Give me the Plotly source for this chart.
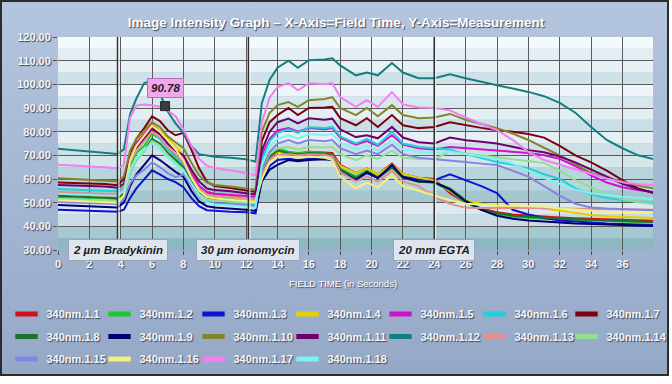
import base64
import plotly.graph_objects as go

# ---------------- data ----------------
time_s = [0, 1, 2, 3, 3.8, 4.2, 4.6, 5, 5.5, 6, 6.5, 7, 7.5, 8, 8.5, 9, 9.5, 10, 11, 12, 12.6,
          13, 13.5, 14, 14.7, 15.3, 16, 17, 17.5, 18, 19, 19.7, 20.4, 21.3, 22, 23, 24,
          25, 26, 27, 28, 29, 30, 31, 32, 33, 34, 35, 36, 37, 38]

series_names = ["340nm.1.%d" % i for i in range(1, 19)]

s1_1 = [53.5, 53.3, 53.1, 52.9, 52.5,
        55, 68, 74, 78, 82, 79, 75, 72, 69, 62.5, 57, 54, 53, 52.5, 52, 51.5,
        63, 69, 71.5, 71, 70.5, 71.5, 71.3, 71, 66, 62.5, 64.5, 62, 66.5, 62, 60.5, 60,
        54, 50, 47.5, 46, 45, 44.5, 44, 43.7, 43.4, 43.2, 43, 42.8, 42.6, 42.4]
s1_2 = [52.4, 52.3, 52.1, 52, 51.6,
        54, 65, 71, 74, 79, 77, 73, 70, 66.5, 60.5, 55.5, 52.5, 51.8, 51.3, 50.8, 50.3,
        64, 70.5, 73, 71.5, 71, 71.5, 71, 70, 64.5, 61, 63.5, 61, 65.5, 61, 59, 58.5,
        55, 50, 47, 45, 44, 43.5, 43.2, 43, 42.8, 42.5, 42.3, 42, 41.8, 41.6]
s1_3 = [47, 46.8, 46.7, 46.5, 46.2,
        47, 52, 56, 60, 63.7, 62, 60, 58.7, 56.5, 52, 48.5, 46.8, 46.5, 46.2, 46, 45.5,
        60, 65.5, 68, 68.5, 68, 68.5, 68.5, 68, 63.5, 60, 62.5, 60.5, 65, 61, 60, 59.5,
        62, 59.4, 57, 54, 47, 45, 43.5, 42.5, 42, 41.5, 41.2, 41, 40.8, 40.6]
s1_4 = [53, 52.8, 52.6, 52.4, 52,
        55, 70, 76, 80, 84, 81.5, 77, 74, 70, 62, 56.5, 53.5, 52.8, 52.3, 51.8, 51.3,
        64, 69.5, 71.5, 71, 70.5, 71, 70.5, 70, 65.5, 62.5, 64.5, 62, 66, 62, 60.5, 59.5,
        55, 51, 49.5, 48.8, 48.5, 48.2, 47.5, 46.5, 45.5, 44.8, 44.3, 44, 43.7, 43.5]
s1_5 = [54.2, 54, 53.8, 53.6, 53.2,
        55, 68, 75, 79, 83, 80, 76, 72, 69, 62, 57, 54.5, 53.8, 53.4, 53, 52.5,
        70, 77, 80.5, 81.5, 80, 81.5, 81, 81.5, 77.5, 74.5, 76, 74, 78.5, 74.5, 73, 72.5,
        73.5, 73, 72.5, 72, 71.5, 71, 70, 68.5, 65.5, 61.5, 58.5, 56.5, 55.3, 54.5]
s1_6 = [55.8, 55.6, 55.4, 55.2, 54.8,
        57, 68, 73, 77, 80, 77, 72.5, 69, 66, 60, 55, 52, 51, 50.3, 49.5, 49,
        68, 76, 79.4, 81, 79.5, 81.9, 81.5, 82, 78, 75, 77, 74.5, 80, 75, 73.5, 73,
        72.5, 70.5, 68.8, 67.2, 66, 64.6, 62, 60, 56, 53.5, 52, 51, 50.3, 49.8]
s1_7 = [58.5, 58.3, 58.1, 57.9, 57.4,
        60, 71, 77, 81.5, 86.5, 84.5, 80.6, 78.5, 79.5, 72.5, 64.5, 58.8, 57, 56.2, 55, 54.5,
        76, 84, 87, 90, 87, 90, 90.2, 90.5, 85.7, 82.7, 85.7, 82, 87, 82.7, 81.5, 82,
        84, 82.7, 81.6, 80.6, 80, 79, 77.5, 74, 70, 67, 63.5, 59.5, 56, 54]
s1_8 = [52.9, 52.7, 52.5, 52.3, 51.9,
        54, 63, 68, 72, 77, 75, 71, 68, 65, 59, 54.5, 52, 51.3, 50.8, 50.3, 49.8,
        63, 69.5, 72, 71, 70.5, 71, 70.8, 70, 64, 60.5, 63, 60.5, 65, 60.5, 58.8, 58.5,
        56, 51, 47.5, 45.5, 44.5, 44, 43.5, 43.2, 43, 42.8, 42.5, 42.3, 42, 41.8]
s1_9 = [49, 48.8, 48.6, 48.4, 48,
        50, 57, 62, 66, 70, 68, 65.5, 63, 61, 55, 50.5, 48.5, 48, 47.6, 47, 46.5,
        59, 64, 66, 68, 67.5, 68, 68.3, 68, 63, 59.5, 63, 60.4, 65.9, 60.8, 59, 58.7,
        55.5, 50.5, 47, 44.5, 43.2, 42.5, 42, 41.6, 41.2, 41, 40.7, 40.4, 40.2, 40.1]
s1_10 = [60.3, 60, 59.8, 59.5, 59,
         61, 72, 77, 80.5, 84, 82, 78, 75.5, 73, 67, 61.5, 58.5, 57.5, 56.8, 56, 55.5,
         80, 88, 91.2, 92.5, 90.5, 93.3, 93.8, 94.6, 90, 87, 90, 86.5, 91.2, 87, 85.7, 86,
         87.5, 85, 83.2, 81.5, 79.2, 76.5, 73.2, 70, 66.3, 62.5, 60.5, 58.8, 57.2, 56]
s1_11 = [57.5, 57.3, 57, 56.8, 56.3,
         58, 68, 73, 77, 81, 79, 75, 72, 70, 64, 59, 56, 55.3, 54.8, 54, 53.5,
         72, 80, 84, 85.5, 83.5, 85.7, 85, 85.5, 81, 77.7, 78.5, 77.2, 82, 77.5, 75.5, 75,
         77.5, 76.4, 75.7, 75, 73.6, 72.2, 71.3, 69.5, 67, 64, 60.8, 58, 55.8, 54.2]
s1_12 = [72.8, 72.3, 71.8, 71.2, 70.6,
         72.5, 87.5, 94, 100.5, 101.5, 96, 88.5, 83.5, 79.5, 74, 70.5, 69.8, 69.4, 69, 68.3, 67.3,
         92, 102, 107, 110, 107, 110.2, 110.5, 111, 108, 103.8, 105, 103.8, 109, 105, 102.6, 102.6,
         104.2, 102.6, 101, 99.6, 98.2, 96.8, 95, 92.2, 88, 82, 76.5, 73, 70, 68.4]
s1_13 = [54.5, 54.3, 54.1, 53.9, 53.5,
         56, 67, 72, 76, 80, 77.5, 73.5, 70.5, 67, 61, 56, 53.5, 52.8, 52.4, 52, 51.5,
         62, 68, 70, 70.5, 70, 70.5, 70.2, 69.5, 63, 59, 61, 59, 63.5, 59, 57, 52.5,
         49.5, 47.8, 47.7, 47.8, 47.8, 47.7, 47.6, 47.5, 47.4, 47.3, 47.2, 47.1, 47, 47]
s1_14 = [51.5, 51.3, 51.2, 51, 50.6,
         53, 63, 68, 71.5, 76, 74, 70, 67, 64, 58, 53.5, 51.5, 50.8, 50.5, 50.2, 49.8,
         64, 70.5, 73, 73.5, 72.5, 73.5, 73.3, 73.5, 70.5, 68, 70, 68.5, 72, 69, 68.5, 68.5,
         71.5, 70.8, 70, 69.2, 68.3, 67.5, 66.8, 63.5, 59.5, 56.5, 53.5, 51.5, 50.2, 49.4]
s1_15 = [50.3, 50.1, 50, 49.8, 49.4,
         51.5, 58, 61.5, 64, 67, 65, 62.5, 60.8, 62, 57, 52.5, 50.3, 49.8, 49.5, 49, 48.5,
         64, 71.5, 75, 76.5, 75, 76.5, 76, 76.5, 73, 70.5, 72, 70.5, 74.5, 70.5, 69, 68.5,
         68, 67.2, 66.5, 65.9, 63.5, 61, 57, 53, 49.5, 48, 47.5, 47.2, 47, 46.8]
s1_16 = [51, 50.8, 50.6, 50.4, 50,
         53, 68, 74, 78.5, 82.5, 80, 76, 72.5, 68, 60.5, 55, 52.5, 51.8, 51.3, 50.8, 50.3,
         60, 67, 69.5, 69.5, 69, 69.5, 69, 68, 61, 56, 58.5, 56.5, 61.6, 57, 55, 53,
         51, 49.5, 49, 48.8, 48.7, 48.6, 48.3, 47.5, 47, 46.5, 46.2, 46, 45.8, 45.6]
s1_17 = [66, 65.7, 65.3, 65, 64.4,
         66, 86, 91, 91.5, 91.2, 90.5, 89, 86.5, 81, 74, 68.5, 65.6, 64.6, 63.6, 62.5, 61.5,
         84, 94.5, 98.8, 100.5, 97.5, 100.5, 100, 100.5, 94.6, 90.5, 93.3, 90.5, 96.7, 91.5, 90.2, 90,
         89, 86, 83.3, 80.6, 76.5, 71.5, 68, 66, 64, 62.3, 60.2, 58.6, 57.8, 57.4]
s1_18 = [53.8, 53.6, 53.4, 53.2, 52.8,
         55, 64, 69, 72.5, 75, 72.5, 69, 66, 63.5, 58, 53, 50, 49.2, 48.8, 48.3, 47.8,
         66, 74, 77, 78.5, 77, 79, 78.5, 79, 75.5, 72.5, 74, 72, 76.5, 72.5, 71.5, 71,
         71.5, 70.5, 69.5, 68.5, 66.5, 63.5, 60.5, 58, 55.5, 54, 53.2, 52.5, 52, 51.5]

series_values = [s1_1, s1_2, s1_3, s1_4, s1_5, s1_6, s1_7, s1_8, s1_9,
                 s1_10, s1_11, s1_12, s1_13, s1_14, s1_15, s1_16, s1_17, s1_18]

event_times = [3.8, 12.15, 24.0]
event_labels = ["2 \u00b5m Bradykinin", "30 \u00b5m ionomycin", "20 mm EGTA"]

marker_time = 6.83
marker_value = 90.78

x_ticks = list(range(0, 37, 2))
y_ticks = [30, 40, 50, 60, 70, 80, 90, 100, 110, 120]

# ---------------- style ----------------
colors = ["#d4101c", "#20c830", "#0a14d2", "#e2d000", "#d010d0", "#20d0da",
          "#7c0010", "#1e7030", "#00006e", "#84842a", "#6e006e", "#128080",
          "#e09090", "#90e090", "#8484e4", "#f2f07e", "#f27ef0", "#80f0f0"]

W, H = 672, 384
ML, MR, MT, MB = 58, 19, 37, 134
PW, PH = W - ML - MR, H - MT - MB

def px_x(p):
    return (p - ML) / PW

def px_y(p):
    return (H - MB - p) / PH

FONT = "Liberation Sans, Arial, sans-serif"
SHADOW = "1px 1px 1px #3a4660"

fig = go.Figure()

for name, vals, col in zip(series_names, series_values, colors):
    fig.add_trace(go.Scatter(x=time_s, y=vals, mode="lines", name=name,
                             line=dict(color=col, width=2), showlegend=False,
                             hoverinfo="skip"))

# legend: 7 columns, each a vertical legend holding up to 3 entries
N_COLS = 7
legend_key = lambda j: "legend" if j == 0 else "legend%d" % (j + 1)
for i, (name, col) in enumerate(zip(series_names, colors)):
    fig.add_trace(go.Scatter(x=[None], y=[None], mode="markers", name=name,
                             marker=dict(symbol="line-ew", size=16, color=col,
                                         line=dict(width=5, color=col)),
                             legend=legend_key(i % N_COLS), legendgroup=name,
                             showlegend=True, hoverinfo="skip"))

fig.add_trace(go.Scatter(x=[marker_time], y=[marker_value], mode="markers",
                         marker=dict(symbol="square", size=9, color="#3c3c3c",
                                     line=dict(width=1, color="#222")),
                         showlegend=False, hoverinfo="skip"))

# background gradient of the frame
svg = ("<svg xmlns='http://www.w3.org/2000/svg' width='672' height='384'>"
       "<defs><linearGradient id='g' x1='0' y1='0' x2='0' y2='1'>"
       "<stop offset='0' stop-color='#b4c6de'/><stop offset='0.55' stop-color='#a2b5d2'/>"
       "<stop offset='1' stop-color='#95a8c6'/></linearGradient></defs>"
       "<rect width='672' height='384' fill='url(#g)'/></svg>")
bg_src = "data:image/svg+xml;base64," + base64.b64encode(svg.encode()).decode()

images = [dict(source=bg_src, xref="paper", yref="paper", layer="below",
               x=px_x(1), y=px_y(1), sizex=(667 / PW), sizey=(374 / PH),
               xanchor="left", yanchor="top", sizing="stretch")]

shapes = []
shapes.append(dict(type="rect", xref="paper", yref="paper", layer="below",
                   x0=px_x(1), x1=px_x(668), y0=px_y(375), y1=px_y(1),
                   fillcolor="rgba(0,0,0,0)", line=dict(color="#2c2c2c", width=2)))
band_cols = [("#f4f9fb", "#e2eef3"), ("#e8f2f6", "#cfe2ea"), ("#eef5f8", "#d6e7ed"),
             ("#e4eff3", "#c9dee6"), ("#e6f0f4", "#cde0e7"), ("#d6e7ec", "#b8d4dc"),
             ("#b9d5dc", "#a3c6cf"), ("#dde9ee", "#cadde4"), ("#a6c8d0", "#8db7c1")]
for k, (c_top, c_bot) in enumerate(band_cols):
    top = 120 - 10 * k
    shapes.append(dict(type="rect", xref="paper", yref="y", layer="below",
                       x0=0, x1=1, y0=top - 5, y1=top, fillcolor=c_top, line=dict(width=0)))
    shapes.append(dict(type="rect", xref="paper", yref="y", layer="below",
                       x0=0, x1=1, y0=top - 10, y1=top - 5, fillcolor=c_bot, line=dict(width=0)))
for t in event_times:
    shapes.append(dict(type="line", xref="x", yref="paper", x0=t, x1=t, y0=0, y1=1,
                       line=dict(color="#2e2e2e", width=1.6)))
    shapes.append(dict(type="line", xref="x", yref="paper", x0=t + 0.09, x1=t + 0.09,
                       y0=0, y1=1, line=dict(color="#f4f4f4", width=1)))

annotations = []
for t, lab in zip(event_times, event_labels):
    annotations.append(dict(x=t, y=30, xref="x", yref="y", text=lab, showarrow=False,
                            font=dict(family=FONT, size=11.5, color="#1c1c1c",
                                      style="italic", weight="bold"),
                            bgcolor="#dfe5ee", bordercolor="#98a6b8", borderwidth=1,
                            borderpad=4, xanchor="center", yanchor="middle"))
annotations.append(dict(x=marker_time, y=marker_value, xref="x", yref="y",
                        text="%.2f" % marker_value, showarrow=False, yshift=18,
                        font=dict(family=FONT, size=11.5, color="#1c1c1c",
                                  style="italic", weight="bold"),
                        bgcolor="#f2a6ee", bordercolor="#b070c0", borderwidth=1,
                        borderpad=3, xanchor="center", yanchor="middle"))
annotations.append(dict(x=px_x(343), y=px_y(283), xref="paper", yref="paper",
                        text="FIELD TIME (in Seconds)", showarrow=False,
                        font=dict(family=FONT, size=9.5, color="#ffffff", shadow=SHADOW),
                        xanchor="center", yanchor="middle"))

legend_cols_px = [6.5, 99.5, 193.5, 287.5, 380.5, 474.5, 566.5]
legends = {}
for j, xp in enumerate(legend_cols_px):
    legends[legend_key(j)] = dict(
        orientation="v", xref="paper", yref="paper", x=px_x(xp), y=px_y(299.5),
        xanchor="left", yanchor="top", bgcolor="rgba(0,0,0,0)", borderwidth=0,
        tracegroupgap=3.5,
        font=dict(family=FONT, size=11, color="#f6f6f6", weight="bold", shadow=SHADOW))

fig.update_layout(
    width=W, height=H,
    margin=dict(l=ML, r=MR, t=MT, b=MB, autoexpand=False),
    paper_bgcolor="#ffffff",
    plot_bgcolor="rgba(0,0,0,0)",
    title=dict(text="Image Intensity Graph \u2013 X-Axis=Field Time, Y-Axis=Measurement",
               x=0.5, xanchor="center", xref="container",
               y=1 - 22 / H, yanchor="middle", yref="container",
               font=dict(family=FONT, size=13.5, color="#ffffff", weight="bold",
                         shadow=SHADOW)),
    xaxis=dict(range=[0, 37.95], tickvals=x_ticks, showgrid=True,
               gridcolor="#5a5a5a", gridwidth=1, zeroline=False, showline=False,
               ticks="outside", ticklen=4, tickcolor="#505050",
               tickfont=dict(family=FONT, size=11, color="#f6f6f6", weight="bold",
                             shadow=SHADOW)),
    yaxis=dict(range=[30, 120], tickvals=y_ticks, tickformat=".2f", showgrid=True,
               gridcolor="#5a5a5a", gridwidth=1, zeroline=False, showline=False,
               ticks="outside", ticklen=4, tickcolor="#505050",
               tickfont=dict(family=FONT, size=11, color="#f6f6f6", weight="bold",
                             shadow=SHADOW)),
    images=images,
    shapes=shapes,
    annotations=annotations,
    showlegend=True,
    **legends,
)

fig.write_html("out.html", config={"displayModeBar": False},
               post_script="document.body.style.margin='0px';")
